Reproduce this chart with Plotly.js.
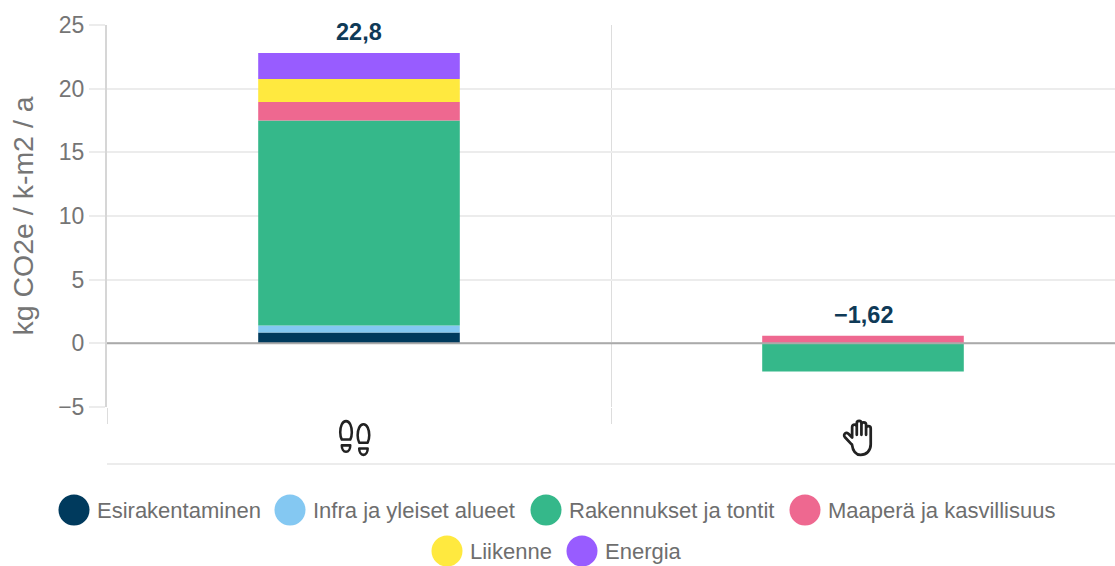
<!DOCTYPE html>
<html><head><meta charset="utf-8">
<script src="https://cdn.plot.ly/plotly-3.0.1.min.js"></script>
<style>html,body{margin:0;padding:0;background:#fff;overflow:hidden}#c{width:1115px;height:566px}</style>
</head><body><div id="c"></div>
<script>
const categories = ["Hiilijalanjälki", "Hiilikädenjälki"];
const seriesNames = ["Esirakentaminen", "Infra ja yleiset alueet", "Rakennukset ja tontit", "Maaperä ja kasvillisuus", "Liikenne", "Energia"];
const esirakentaminen = [0.85, 0];
const infra = [0.55, 0];
const rakennukset = [16.1, -2.22];
const maapera = [1.45, 0.6];
const liikenne = [1.8, 0];
const energia = [2.05, 0];
const totalLabels = ["22,8", "−1,62"];
const colors = ["#003a5d", "#84c8f2", "#35b88a", "#ee6890", "#ffe93f", "#985cff"];

const seriesValues = [esirakentaminen, infra, rakennukset, maapera, liikenne, energia];

const W = 1115, H = 566, L = 107, T = 25, B = 407;
const px = x => (x - L) / (W - L);
const py = y => (B - y) / (B - T);

const traces = seriesValues.map((v, i) => ({
  type: "bar", x: categories, y: v, name: seriesNames[i], width: 0.4,
  marker: {color: colors[i], line: {width: 0}}, showlegend: false, hoverinfo: "x+y+name"
}));

const tops = categories.map((_, c) => seriesValues.reduce((s, v) => s + Math.max(v[c], 0), 0));
const annotations = categories.map((cat, c) => ({
  x: cat, y: tops[c], xref: "x", yref: "y", text: "<b>" + totalLabels[c] + "</b>", showarrow: false,
  yanchor: "bottom", yshift: 6, font: {family: "Liberation Sans, Arial, sans-serif", size: 23.5, color: "#0f3a57"}
}));

const legendRows = [[74, 510], [290, 510], [546, 510], [805, 510], [447, 551], [582, 551]];
const shapes = [
  {type: "line", xref: "paper", yref: "y", x0: 0, x1: 1, y0: 0, y1: 0, layer: "above", line: {color: "#aaaaaa", width: 2}},
  {type: "line", xref: "paper", yref: "paper", x0: 0, x1: 1, y0: py(464), y1: py(464), line: {color: "#ececec", width: 2}}
];
legendRows.forEach(([x, y], i) => {
  shapes.push({type: "circle", xref: "paper", yref: "paper", xsizemode: "pixel", ysizemode: "pixel",
    xanchor: px(x), yanchor: py(y), x0: -15.5, x1: 15.5, y0: -15.5, y1: 15.5,
    fillcolor: colors[i], line: {width: 0}});
  annotations.push({xref: "paper", yref: "paper", x: px(x + 20.5), y: py(y), xanchor: "left", yanchor: "middle",
    text: seriesNames[i], showarrow: false,
    font: {family: "Liberation Sans, Arial, sans-serif", size: 22, color: "#6e6e6e"}});
});

const footSvg = `<svg xmlns="http://www.w3.org/2000/svg" viewBox="0 0 34 36"><g fill="none" stroke="#222" stroke-width="2.4" stroke-linejoin="round"><path d="M8.5 2C5 2 3 7 3 12.5c0 4 1.5 7 1.5 7h8s1.5-3 1.5-7C14 7 12 2 8.5 2z"/><path d="M4.5 25h8c0 3-1.5 6-4 6s-4-3-4-6z"/><path d="M25 5c-3.5 0-5.5 5-5.5 10.500 0 4 1.500 7 1.500 7h8s1.500-3 1.500-7C30.500 10 28.500 5 25 5z"/><path d="M21 28h8c0 3-1.500 6-4 6s-4-3-4-6z"/></g></svg>`;
const handSvg = `<svg xmlns="http://www.w3.org/2000/svg" viewBox="0 0 34 36"><path fill="none" stroke="#222" stroke-width="2.6" stroke-linecap="round" stroke-linejoin="round" d="M10 24 L3.500 17 a2.300 2.300 0 0 1 3.500-3 L10.500 17.500 V7.500 a2.200 2.200 0 0 1 4.400 0 V15 V4 a2.200 2.200 0 0 1 4.400 0 V15 V5.500 a2.200 2.200 0 0 1 4.400 0 V15 V9 a2.200 2.200 0 0 1 4.400 0 V24 c0 6 -4 10 -9.500 10 c-5.500 0 -7.500 -4 -8.300 -10z"/></svg>`;
const uri = s => "data:image/svg+xml;charset=utf-8," + encodeURIComponent(s);

const images = [[footSvg, 355], [handSvg, 859]].map(([s, x]) => ({
  source: uri(s), xref: "paper", yref: "paper", x: px(x), y: py(438), xanchor: "center", yanchor: "middle",
  sizex: 36 / (W - L), sizey: 38 / (B - T), sizing: "contain", layer: "above"
}));

const layout = {
  width: W, height: H, margin: {l: L, r: 0, t: T, b: H - B, pad: 0},
  paper_bgcolor: "#fff", plot_bgcolor: "#fff", barmode: "relative", showlegend: false,
  xaxis: {type: "category", categoryorder: "array", categoryarray: categories, range: [-0.5, 1.5],
    tickson: "boundaries", showticklabels: false, ticks: "outside", ticklen: 16, tickcolor: "#dddddd", tickwidth: 1,
    showgrid: true, gridcolor: "#dddddd", gridwidth: 1, zeroline: false, showline: false},
  yaxis: {range: [-5, 25], tick0: 0, dtick: 5, ticks: "outside", ticklen: 16, tickcolor: "#ececec", tickwidth: 2,
    gridcolor: "#ececec", gridwidth: 2, zeroline: false, showline: true, linecolor: "#d6d6d6", linewidth: 2,
    tickfont: {family: "Liberation Sans, Arial, sans-serif", size: 23, color: "#757575"},
    title: {text: "kg CO2e / k-m2 / a", standoff: 16, font: {family: "Liberation Sans, Arial, sans-serif", size: 28.5, color: "#757575"}}},
  annotations, shapes, images, hovermode: "closest"
};
Plotly.newPlot("c", traces, layout, {displayModeBar: false, responsive: false});
</script></body></html>
